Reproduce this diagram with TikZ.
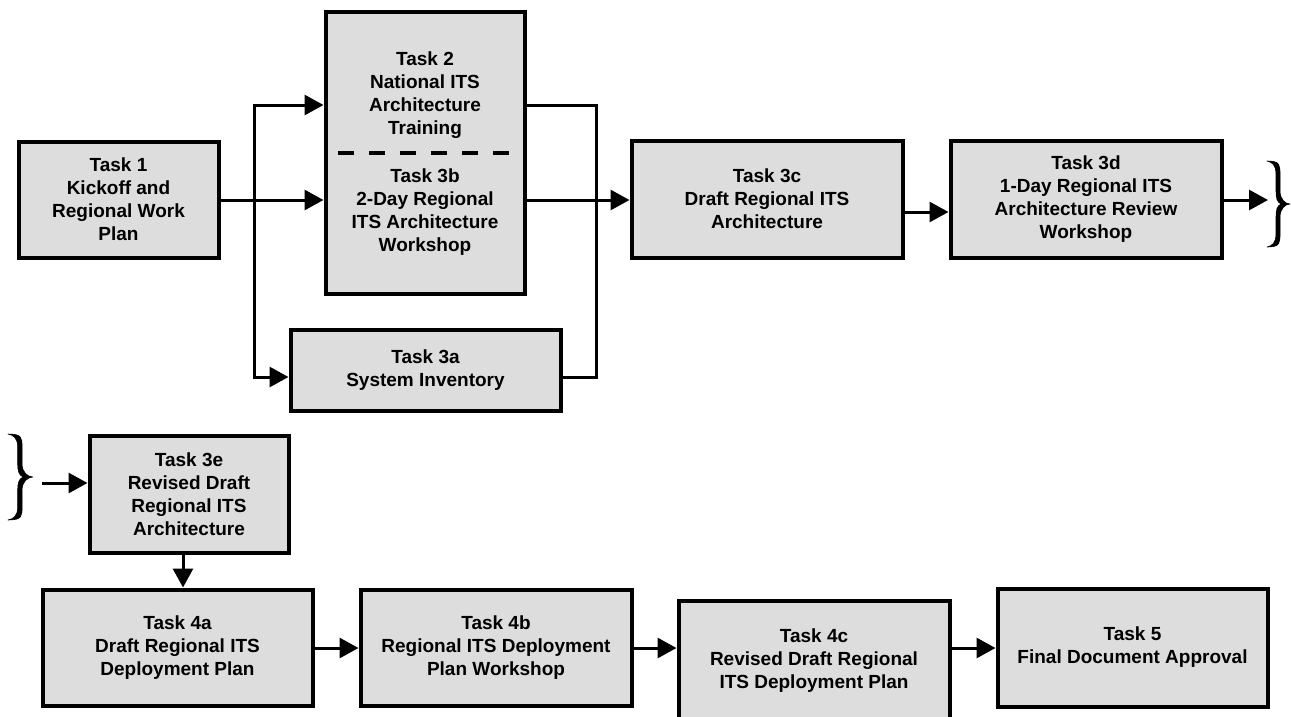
\documentclass[tikz,border=0pt]{standalone}
\usepackage{fontspec}
\setmainfont{Liberation Sans}
\usetikzlibrary{arrows.meta}
\definecolor{boxgray}{HTML}{DDDDDD}
\tikzset{
  taskbox/.style={draw=black, line width=4pt, fill=boxgray, align=center,
    inner sep=0pt, font=\bfseries\fontsize{19}{23}\selectfont},
  tasktext/.style={align=center, inner sep=0pt, font=\bfseries\fontsize{19}{23}\selectfont},
  conn/.style={line width=3pt},
  arr/.style={line width=3pt, -{Triangle[length=19pt,width=20pt]}},
  curly/.pic={
    \fill[black, draw=black, line width=0.6pt, line join=round]
      (0,-43) .. controls (13,-43) and (13,-39) .. (13,-30)
      -- (13,-13) .. controls (13,-5) and (18,0) .. (23,0)
      .. controls (18,0) and (13,5) .. (13,13)
      -- (13,30) .. controls (13,39) and (13,43) .. (0,43)
      .. controls (5,42) and (9,39) .. (9,30)
      -- (9,13) .. controls (9,6) and (10,2) .. (14,0)
      .. controls (10,-2) and (9,-6) .. (9,-13)
      -- (9,-30) .. controls (9,-39) and (5,-42) .. (0,-43) -- cycle;
  }
}
\begin{document}
\begin{tikzpicture}[x=1pt,y=-1pt]
\useasboundingbox (0,0) rectangle (1291,716);
% boxes
\node[taskbox, minimum width=200pt, minimum height=116pt] (t1) at (118.5,199.5) {Task 1\\Kickoff and\\Regional Work\\Plan};
\node[taskbox, minimum width=199pt, minimum height=282pt] (t23) at (425,152.5) {};
\node[tasktext] (t2) at (425,95) {Task 2\\National ITS\\Architecture\\Training};
\node[tasktext] (t3b) at (425,212) {Task 3b\\2-Day Regional\\ITS Architecture\\Workshop};
\draw[line width=4pt, dash pattern=on 16pt off 15pt] (338,153) -- (509,153);
\node[taskbox, minimum width=270pt, minimum height=81pt] (t3a) at (425.5,370) {Task 3a\\System Inventory};
\node[taskbox, minimum width=271pt, minimum height=117pt] (t3c) at (767,199) {Task 3c\\Draft Regional ITS\\Architecture};
\node[taskbox, minimum width=271pt, minimum height=117pt] (t3d) at (1086,199) {Task 3d\\1-Day Regional ITS\\Architecture Review\\Workshop};
\node[taskbox, minimum width=199pt, minimum height=117pt] (t3e) at (189,494) {Task 3e\\Revised Draft\\Regional ITS\\Architecture};
\node[taskbox, minimum width=270pt, minimum height=116pt] (t4a) at (177.5,647.5) {Task 4a\\Draft Regional ITS\\Deployment Plan};
\node[taskbox, minimum width=271pt, minimum height=116pt] (t4b) at (496,647.5) {Task 4b\\Regional ITS Deployment\\Plan Workshop};
\node[taskbox, minimum width=271pt, minimum height=121pt] (t4c) at (814,661) {Task 4c\\Revised Draft Regional\\ITS Deployment Plan};
\node[taskbox, minimum width=270pt, minimum height=118pt] (t5) at (1132.5,647.5) {Task 5\\Final Document Approval};
% junctions
\coordinate (sp) at (254,200);
\coordinate (mg) at (596,200);
\coordinate (bR) at (1268,200);
\coordinate (bL) at (42,483);
% connectors
\draw[arr] (t1.east |- 0,200) -- (t23.west |- 0,200);
\draw[arr] (sp) |- (t23.west |- 0,105);
\draw[arr] (sp) |- (t3a.west |- 0,377);
\draw[conn] (t23.east |- 0,105) -| (mg);
\draw[conn] (t3a.east |- 0,377) -| (mg);
\draw[arr] (t23.east |- 0,200) -- (t3c.west |- 0,200);
\draw[arr] (t3c.east |- 0,212) -- (t3d.west |- 0,212);
\draw[arr] (t3d.east |- 0,200) -- (bR);
\draw[arr] (bL) -- (t3e.west |- 0,483);
\draw[arr] (t3e.south -| 183,0) -- (t4a.north -| 183,0);
\draw[arr] (t4a.east |- 0,648) -- (t4b.west |- 0,648);
\draw[arr] (t4b.east |- 0,648) -- (t4c.west |- 0,648);
\draw[arr] (t4c.east |- 0,648) -- (t5.west |- 0,648);
% braces
\pic at (1267,204) {curly};
\pic[xscale=1.08] at (8,477) {curly};
\end{tikzpicture}
\end{document}
